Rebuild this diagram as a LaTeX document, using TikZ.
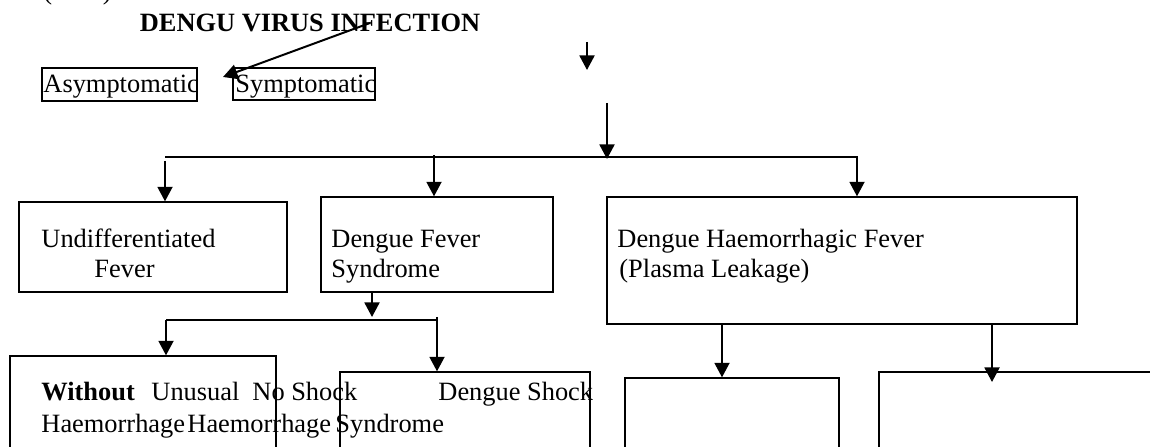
\documentclass[tikz,border=0pt]{standalone}
\usepackage{fontspec}
\setmainfont{Liberation Serif}
\usetikzlibrary{arrows.meta,fit}

\tikzset{
	box/.style={draw, line width=0.6pt, inner sep=0pt},
	txt/.style={anchor=base west, inner sep=0pt, font=\fontsize{12}{14}\selectfont},
	arr/.style={line width=0.9pt, -{Triangle[width=6.8pt,length=6.6pt]}},
	bar/.style={line width=0.9pt},
}

\begin{document}
\begin{tikzpicture}[x=0.4545pt, y=-0.4545pt]
		\useasboundingbox ( 0, 0 ) rectangle ( 1150, 447 );
		\clip ( 0, 0 ) rectangle ( 1150, 447 );

		% заголовок
		\node [txt] (par) at ( 43, 0 ) {(\hspace{23pt})};
		\node [txt, anchor=base, font=\fontsize{12}{14}\selectfont\bfseries] (title) at ( 310, 32 ) {DENGU VIRUS INFECTION};

		% верхний ряд
		\node [box, fit={( 42, 68 ) ( 197, 101 )}] (asym) {};
		\node [txt] (asymT) at ( 43, 93 ) {Asymptomatic};
		\node [box, fit={( 233, 68 ) ( 375, 100 )}] (sym) {};
		\node [txt] (symT) at ( 235, 93 ) {Symptomatic};

		% средний ряд
		\node [box, fit={( 19, 202 ) ( 287, 292 )}] (undiff) {};
		\node [txt] (undiffA) at ( 41, 248 ) {Undifferentiated};
		\node [txt] (undiffB) at ( 94, 278 ) {Fever};
		\node [box, fit={( 321, 197 ) ( 553, 292 )}] (dfs) {};
		\node [txt] (dfsA) at ( 331, 248 ) {Dengue Fever};
		\node [txt] (dfsB) at ( 331, 278 ) {Syndrome};
		\node [box, fit={( 607, 197 ) ( 1077, 324 )}] (dhf) {};
		\node [txt] (dhfA) at ( 617, 248 ) {Dengue Haemorrhagic Fever};
		\node [txt] (dhfB) at ( 619, 278 ) {(Plasma Leakage)};

		% нижний ряд
		\node [box, fit={( 10, 356 ) ( 276, 470 )}] (wo) {};
		\node [box, fit={( 340, 372 ) ( 590, 470 )}] (dss) {};
		\node [box, fit={( 625, 378 ) ( 839, 470 )}] (boxC) {};
		\node [box, fit={( 879, 372 ) ( 1170, 470 )}] (boxD) {};
		\node [txt, font=\fontsize{12}{14}\selectfont\bfseries] (woA) at ( 41, 400 ) {Without};
		\node [txt] (woB) at ( 151, 400 ) {Unusual};
		\node [txt] (woC) at ( 252, 400 ) {No Shock};
		\node [txt] (dssA) at ( 438, 400 ) {Dengue Shock};
		\node [txt] (haemA) at ( 41, 432 ) {Haemorrhage};
		\node [txt] (haemB) at ( 187, 432 ) {Haemorrhage};
		\node [txt] (synd) at ( 335, 432 ) {Syndrome};

		% стрелки сверху
		\coordinate (diagS) at ( 370, 23 );
		\coordinate (diagE) at ( 223, 77 );
		\draw [arr] (diagS) -- (diagE);
		\coordinate (aTop) at ( 587, 42 );
		\coordinate (aBot) at ( 587, 70 );
		\draw [arr] (aTop) -- (aBot);
		\coordinate (bTop) at ( 607, 103 );
		\coordinate (bBot) at ( 607, 159 );
		\draw [arr] (bTop) -- (bBot);

		% разветвление
		\coordinate (barL) at ( 165, 157 );
		\coordinate (barM) at ( 434, 157 );
		\coordinate (barR) at ( 857, 157 );
		\draw [arr] (barL) -- (barR) -- (barR |- dhf.north);
		\draw [arr] ([yshift=-1.8pt]barL) -- (barL |- undiff.north);
		\draw [arr] ([yshift=1pt]barM) -- (barM |- dfs.north);

		% от dfs
		\coordinate (subTip) at ( 372, 317 );
		\draw [arr] (dfs.south -| subTip) -- (subTip);
		\coordinate (subL) at ( 166, 320 );
		\coordinate (subR) at ( 437, 320 );
		\draw [bar] (subL) -- (subR);
		\draw [arr] (subL) -- (subL |- wo.north);
		\draw [arr] ([yshift=1.4pt]subR) -- (subR |- dss.north);

		% от dhf
		\coordinate (hL) at ( 722, 324 );
		\coordinate (hR) at ( 992, 324 );
		\coordinate (hRtip) at ( 992, 382 );
		\draw [arr] (dhf.south -| hL) -- (hL |- boxC.north);
		\draw [arr] (dhf.south -| hR) -- (hRtip);
	\end{tikzpicture}
\end{document}
